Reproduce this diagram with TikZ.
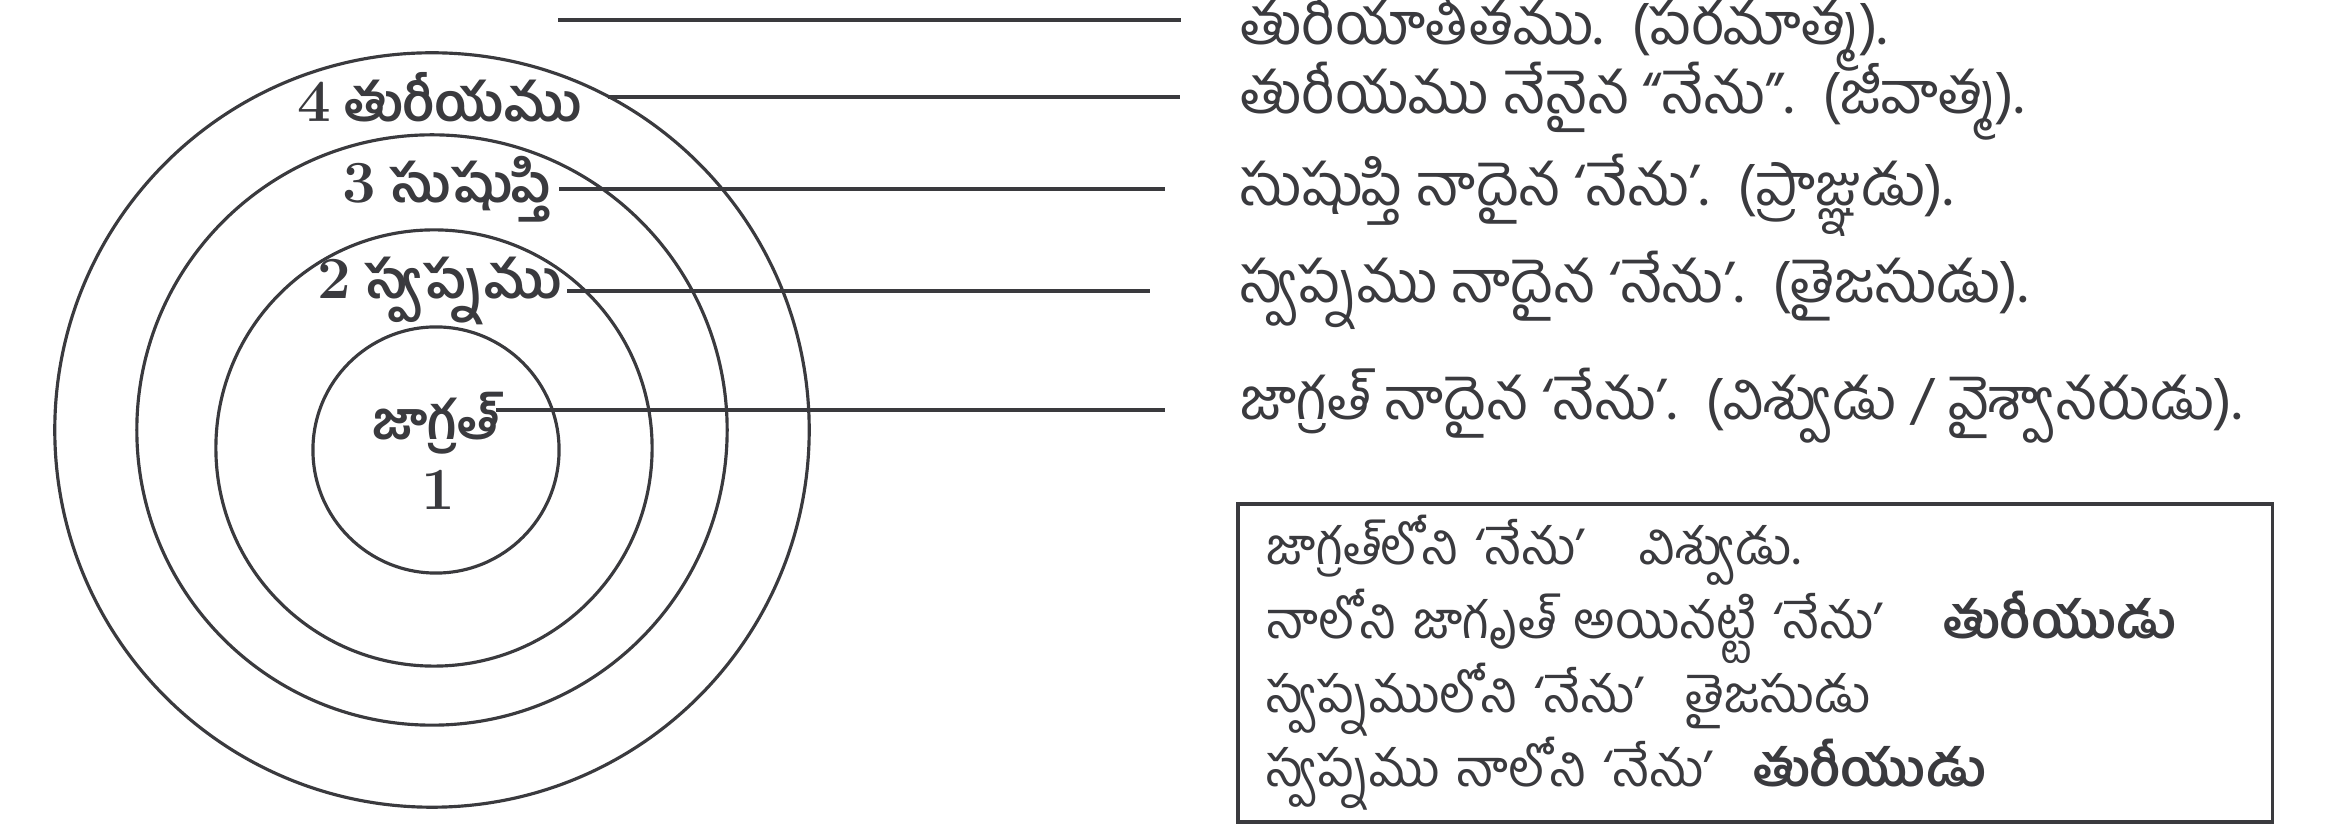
\documentclass[tikz,border=0pt]{standalone}
\usepackage{fontspec}
\usetikzlibrary{positioning}
\newfontfamily\telugu[Script=Telugu]{Hind Guntur}
\definecolor{inkgray}{RGB}{58,58,62}
\newcommand\legendfont{\telugu\fontsize{14.5}{21}\selectfont\lineskiplimit=-20pt\relax}
\newcommand\statenum[1]{{\rmfamily\fontsize{17}{17}\selectfont #1}}

\begin{document}
\begin{tikzpicture}[
    x=0.01cm, y=-0.01cm,
    ring/.style={draw=inkgray, line width=0.9pt},
    leader/.style={draw=inkgray, line width=0.9pt},
    state/.style={inner sep=0pt, text=inkgray, font=\telugu\bfseries\fontsize{15}{17}\selectfont},
    saying/.style={anchor=west, inner sep=0pt, text=inkgray, font=\telugu\fontsize{16.5}{20}\selectfont},
    legend/.style={draw=inkgray, line width=1pt, anchor=north west, minimum width=10.34cm, minimum height=2.98cm, text width=9.76cm, inner xsep=0.29cm, align=left, text=inkgray, font=\legendfont}
]
\useasboundingbox (0,0) rectangle (2341,825);

% Circles
\foreach \r/\cx/\cy in {1.23/436/450, 2.18/434/448, 2.95/432/430, 3.77/432/430}
    \draw [ring] (\cx,\cy) circle [radius=\r cm];

% States
\node (lab4) [state] at (440,97) {\statenum{4} తురీయము};
\node (lab3) [state] at (447,189) {\statenum{3} సుషుప్తి};
\node (lab2) [state] at (440,291) {\statenum{2} స్వప్నము};
\node (lab1) [state] at (436,423) {జాగ్రత్};
\node (num1) [state] at (438,490) {\statenum{1}};

% Sayings
\node (row0) [saying] at (1240,32) {తురీయాతీతము.~~(పరమాత్మ).};
\node (row1) [saying] at (1240,101) {తురీయము నేనైన “నేను”.~~(జీవాత్మ).};
\node (row2) [saying] at (1240,195) {సుషుప్తి నాదైన ‘నేను’.~~(ప్రాజ్ఞుడు).};
\node (row3) [saying] at (1240,290) {స్వప్నము నాదైన ‘నేను’.~~(తైజసుడు).};
\node (row4) [saying] at (1240,406) {జాగ్రత్ నాదైన ‘నేను’.~~(విశ్వుడు / వైశ్వానరుడు).};

% Leaders
\coordinate (top0) at (558,20);
\coordinate (jtip) at ([xshift=-0.04cm, yshift=0.13cm]lab1.east);
\draw [leader] (top0) -- ([xshift=-0.59cm]top0 -| row0.west);
\draw [leader] ([xshift=0.25cm]lab4.east) -- ([xshift=-0.6cm]lab4.east -| row1.west);
\draw [leader] ([xshift=0.07cm]lab3.east) -- ([xshift=-0.75cm]lab3.east -| row2.west);
\draw [leader] ([xshift=0.04cm]lab2.east) -- ([xshift=-0.9cm]lab2.east -| row3.west);
\draw [leader] (jtip) -- ([xshift=-0.75cm]jtip -| row4.west);

% Box
\node (legend) [legend] at (1236,502) {జాగ్రత్^^^^200cలోని ‘నేను’\hspace{0.55cm}విశ్వుడు.\\
    నాలోని జాగృత్ అయినట్టి ‘నేను’\hspace{0.6cm}\textbf{తురీయుడు}\\
    స్వప్నములోని ‘నేను’\hspace{0.42cm}తైజసుడు\\
    స్వప్నము నాలోని ‘నేను’\hspace{0.4cm}\textbf{తురీయుడు}};

\end{tikzpicture}
\end{document}
